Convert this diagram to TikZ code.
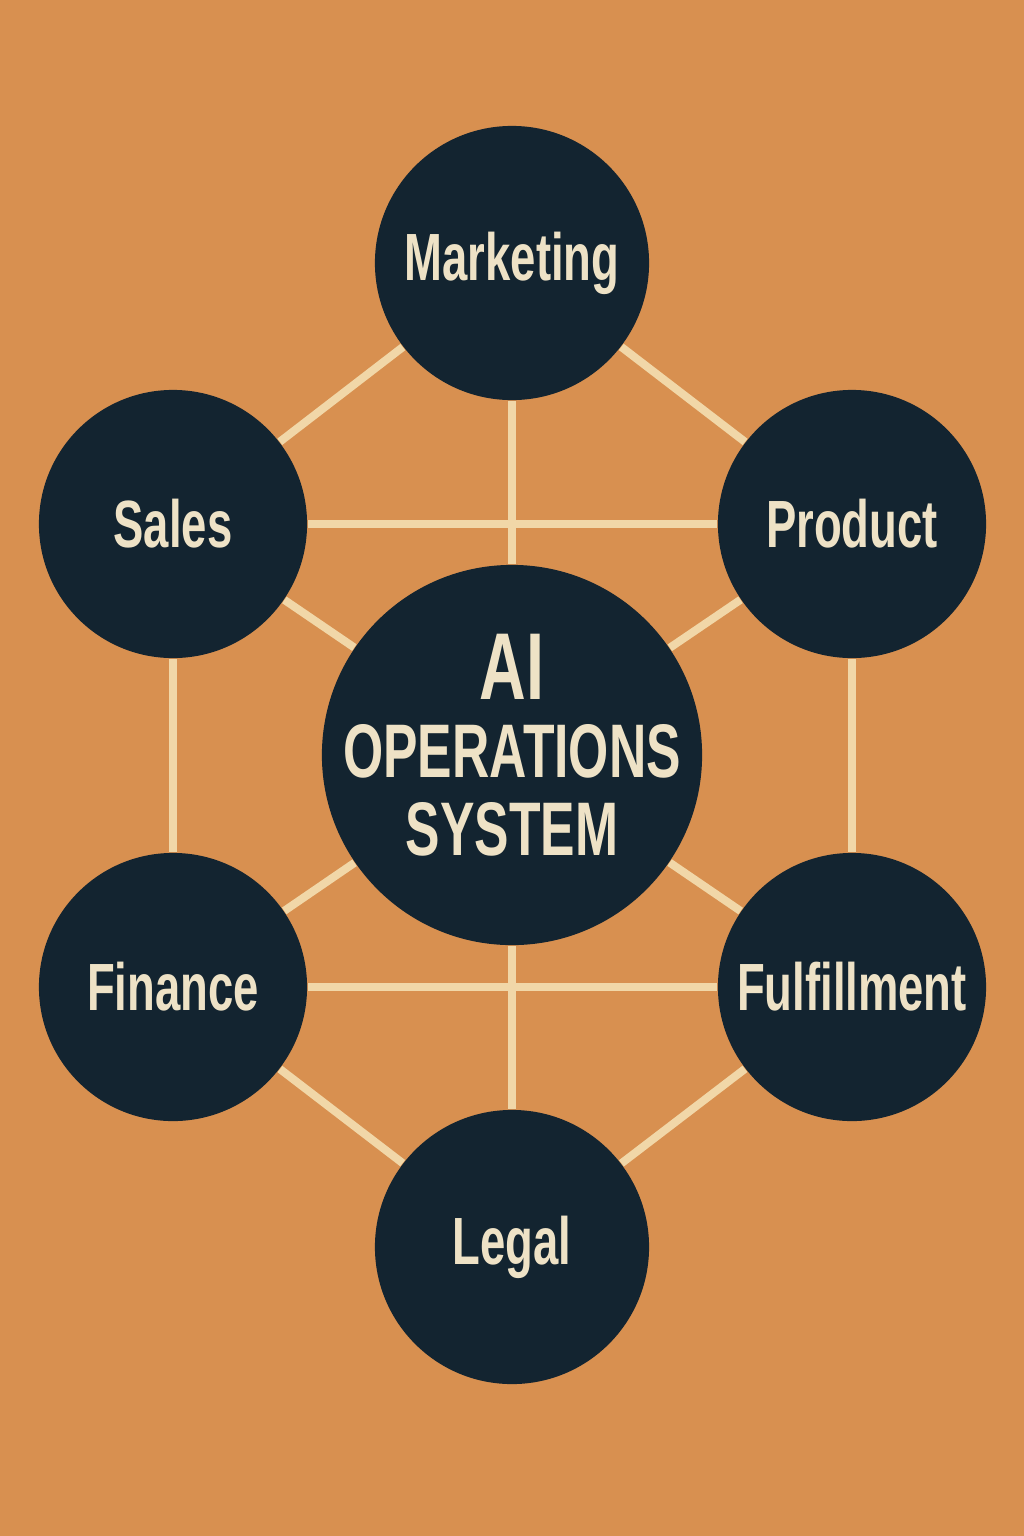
\documentclass[tikz,border=0pt]{standalone}
\usepackage{fontspec}
\newfontfamily\condfont{Liberation Sans}[FakeStretch=0.68]
\usetikzlibrary{backgrounds}
\definecolor{bgorange}{RGB}{216,144,80}
\definecolor{navy}{RGB}{19,36,48}
\definecolor{cream}{RGB}{238,226,198}
\definecolor{linecream}{RGB}{241,215,168}
\tikzset{
  unit/.style={circle,fill=navy,text=cream,inner sep=0pt,minimum size=2.68cm,
               font=\condfont\bfseries\fontsize{19}{21}\selectfont},
  link/.style={linecream,line width=0.08cm}
}

\begin{document}
\begin{tikzpicture}[x=0.01cm,y=-0.01cm]
  \useasboundingbox (0,0) rectangle (1024,1536);
  \node[unit,minimum size=2.74cm] (mk) at (512,263)  {Marketing};
  \node[unit] (sa) at (173,524)  {Sales};
  \node[unit] (pr) at (852,524)  {Product};
  \node[unit] (fi) at (173,987)  {Finance};
  \node[unit] (fu) at (852,987)  {Fulfillment};
  \node[unit,minimum size=2.74cm] (le) at (512,1247) {Legal};
  \node[unit,minimum size=3.8cm,inner sep=-2cm,align=center,
        font=\condfont\bfseries\fontsize{21.6}{22.2}\selectfont] (ai) at (512,755)
        {{\fontsize{27}{27}\selectfont AI}\\OPERATIONS\\SYSTEM\rule[-0.2cm]{0pt}{0pt}};
  \begin{pgfonlayer}{background}
    \fill[bgorange] (0,0) rectangle (1024,1536);
    \draw[link] (mk)--(sa); \draw[link] (mk)--(pr); \draw[link] (mk)--(ai);
    \draw[link] (sa)--(pr); \draw[link] (sa)--(ai); \draw[link] (pr)--(ai);
    \draw[link] (sa)--(fi); \draw[link] (pr)--(fu);
    \draw[link] (fi)--(ai); \draw[link] (fu)--(ai); \draw[link] (fi)--(fu);
    \draw[link] (ai)--(le); \draw[link] (fi)--(le); \draw[link] (fu)--(le);
  \end{pgfonlayer}
\end{tikzpicture}
\end{document}
